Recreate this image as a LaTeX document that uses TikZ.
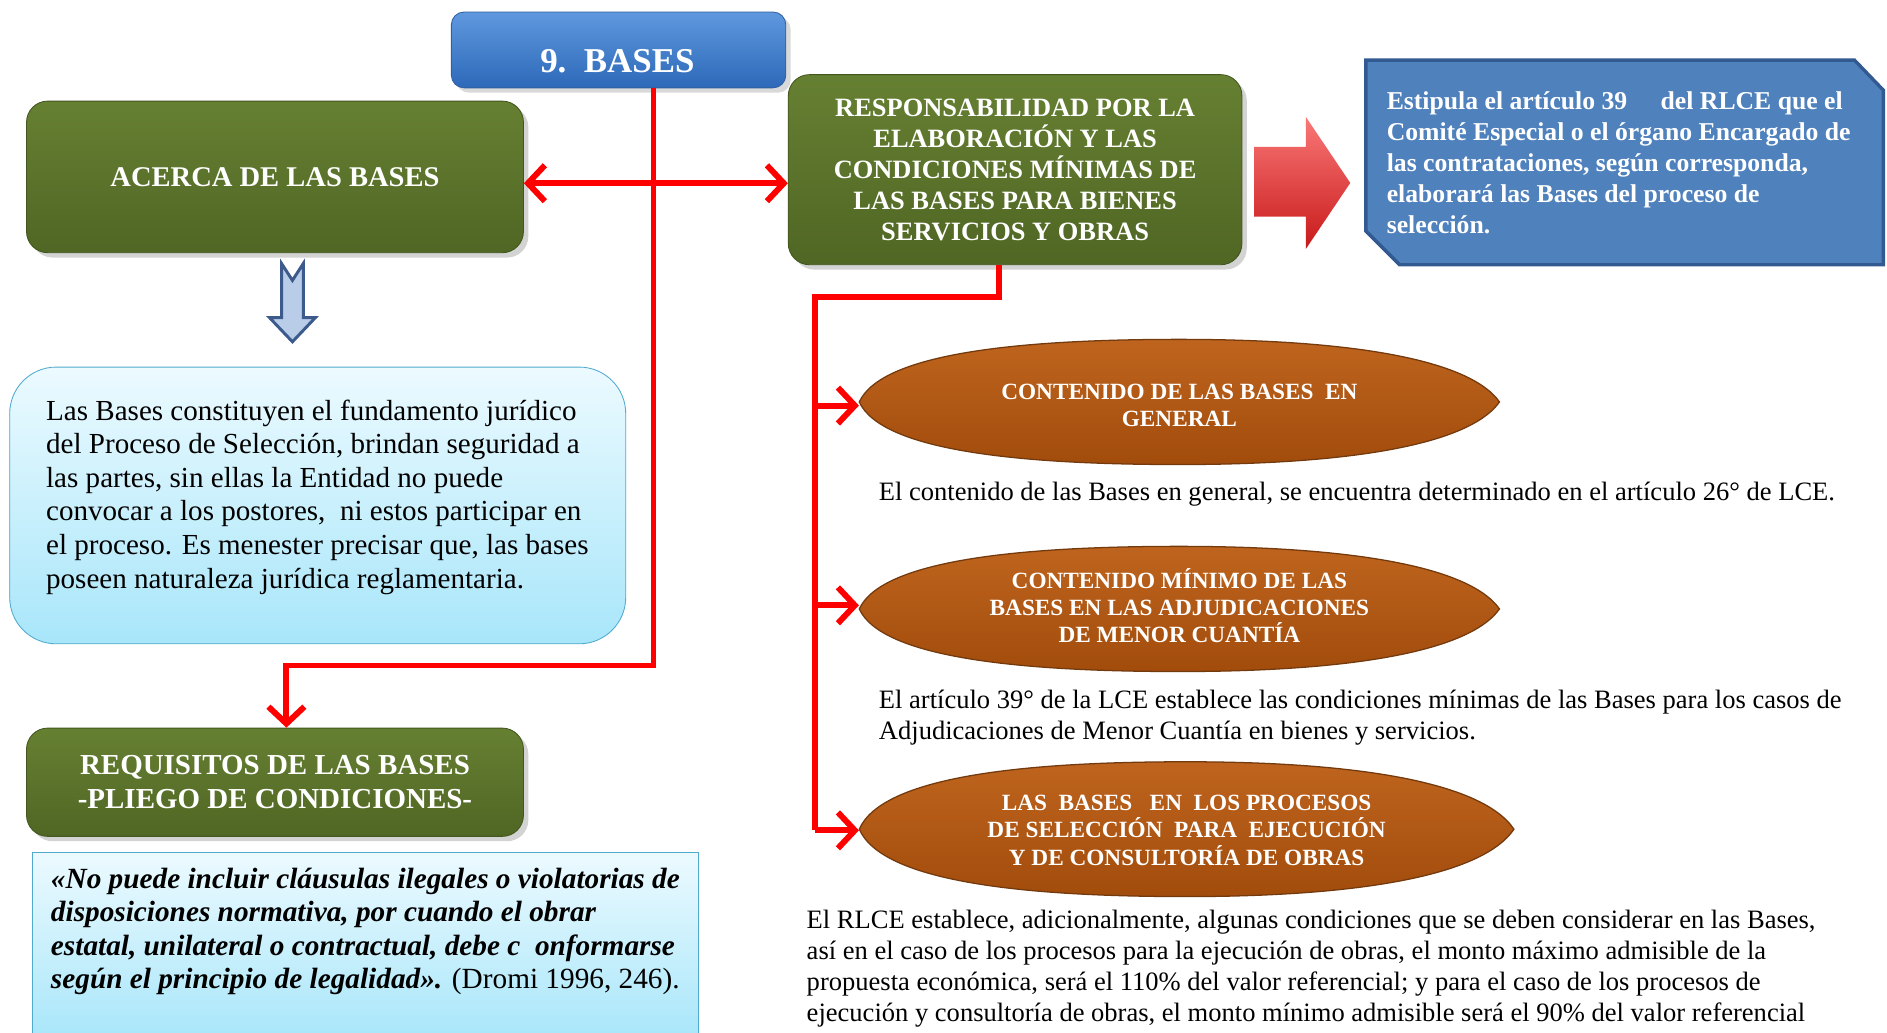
\documentclass[tikz,border=0pt]{standalone}
\usepackage{fontspec}
\setmainfont{Liberation Serif}
\usetikzlibrary{arrows.meta,shapes.geometric,shadows,calc,positioning}

\definecolor{greentop}{RGB}{102,128,50}
\definecolor{greenbot}{RGB}{80,102,36}
\definecolor{greenedge}{RGB}{66,86,30}
\definecolor{basetop}{RGB}{95,152,222}
\definecolor{basebot}{RGB}{45,105,185}
\definecolor{baseedge}{RGB}{50,95,160}
\definecolor{notefill}{RGB}{79,129,189}
\definecolor{noteedge}{RGB}{50,90,145}
\definecolor{paletop}{RGB}{236,250,255}
\definecolor{palebot}{RGB}{168,230,250}
\definecolor{paleedge}{RGB}{80,170,205}
\definecolor{lenstop}{RGB}{190,100,30}
\definecolor{lensbot}{RGB}{162,76,12}
\definecolor{lensedge}{RGB}{115,58,14}
\definecolor{linkred}{RGB}{255,0,0}
\definecolor{blocktop}{RGB}{250,120,120}
\definecolor{blockbot}{RGB}{200,25,25}
\definecolor{downfill}{RGB}{185,205,232}
\definecolor{downedge}{RGB}{60,90,140}

\tikzset{
  basebox/.style={draw=baseedge, rounded corners=6pt, top color=basetop, bottom color=basebot,
    minimum width=5.56cm, minimum height=1.26cm, drop shadow={opacity=0.3}},
  greenbox/.style={draw=greenedge, rounded corners=10pt, top color=greentop, bottom color=greenbot,
    text=white, align=center, drop shadow={opacity=0.35}},
  palebox/.style={draw=paleedge, top color=paletop, bottom color=palebot},
  lens/.style={draw=lensedge, line width=0.6pt, top color=lenstop, bottom color=lensbot},
  lenstext/.style={ellipse, inner sep=0pt, text=white, align=center,
    font=\bfseries\fontsize{11}{12.8}\selectfont},
  plain/.style={anchor=west, inner sep=0pt, align=left, font=\fontsize{12.55}{14.7}\selectfont},
  link/.style={draw=linkred, line width=2.8pt},
  >={Straight Barb[length=8pt,width=17pt]}
}

% lente: x, y, semiancho, semialto
\newcommand\lensat[4]{%
  \path[lens] ({#1-#3},#2)
    .. controls ({#1-0.93*#3},{#2-0.78*#4}) and ({#1-0.5*#3},{#2-#4}) .. ({#1},{#2-#4})
    .. controls ({#1+0.5*#3},{#2-#4}) and ({#1+0.9*#3},{#2-0.72*#4}) .. ({#1+#3},#2)
    .. controls ({#1+0.9*#3},{#2+0.72*#4}) and ({#1+0.5*#3},{#2+#4}) .. ({#1},{#2+#4})
    .. controls ({#1-0.5*#3},{#2+#4}) and ({#1-0.93*#3},{#2+0.78*#4}) .. cycle;}

\begin{document}
\begin{tikzpicture}[x=0.02cm,y=-0.02cm]
\useasboundingbox (0,0) rectangle (1568,858);

% columna izquierda
\node[basebox] (base) at (514,41.5) {};
\node[text=white, font=\bfseries\fontsize{16.5}{19}\selectfont] (basetext) at (513,51) {9.\ \ BASES};
\node[greenbox, minimum width=8.26cm, minimum height=2.52cm, font=\bfseries\fontsize{13.5}{16}\selectfont]
  (acerca) at (228.5,147) {ACERCA DE LAS BASES};
\node[palebox, rounded corners=22pt, minimum width=10.24cm, minimum height=4.6cm] (idea) at (264,420) {};
\node[anchor=west, inner sep=0pt, align=left, font=\fontsize{13.75}{15.9}\selectfont] (ideatext) at (38,413)
  {Las Bases constituyen el fundamento jurídico\\
   del Proceso de Selección, brindan seguridad a\\
   las partes, sin ellas la Entidad no puede\\
   convocar a los postores,\ \ ni estos participar en\\
   el proceso. Es menester precisar que, las bases\\
   poseen naturaleza jurídica reglamentaria.};
\node[greenbox, minimum width=8.26cm, minimum height=1.8cm, font=\bfseries\fontsize{13.7}{15.9}\selectfont]
  (req) at (228.5,650) {REQUISITOS DE LAS BASES\\-PLIEGO DE CONDICIONES-};
\node[palebox, minimum width=11.06cm, minimum height=3.1cm] (cita) at (303.5,786) {};
\node[anchor=west, inner sep=0pt, align=left, font=\fontsize{13.85}{15.9}\selectfont] (citatext) at (42,774)
  {\textbf{\textit{«No puede incluir cláusulas ilegales o violatorias de}}\\
   \textbf{\textit{disposiciones normativa, por cuando el obrar}}\\
   \textbf{\textit{estatal, unilateral o contractual, debe c\ \ onformarse}}\\
   \textbf{\textit{según el principio de legalidad».}} (Dromi 1996, 246).};

% flecha azul
\filldraw[fill=downfill, draw=downedge, line width=1.4pt, line join=miter]
  (234,219) -- (243,233) -- (252,219) -- (252,264) -- (262,264) -- (243,284)
  -- (224,264) -- (234,264) -- cycle;

% columna derecha
\node[greenbox, minimum width=7.54cm, minimum height=3.16cm, font=\bfseries\fontsize{12.5}{14.7}\selectfont]
  (resp) at (843.5,141)
  {RESPONSABILIDAD POR LA\\ELABORACIÓN Y LAS\\CONDICIONES MÍNIMAS DE\\LAS BASES PARA BIENES\\SERVICIOS Y OBRAS};
\shade[top color=blocktop, bottom color=blockbot]
  (1042,122) -- (1085,122) -- (1085,97) -- (1122,152) -- (1085,207) -- (1085,180) -- (1042,180) -- cycle;
\filldraw[fill=notefill, draw=noteedge, line width=1.6pt]
  (1135,50) -- (1541,50) -- (1565,75) -- (1565,220) -- (1163,220) -- (1135,192) -- cycle;
\node[anchor=west, inner sep=0pt, text=white, align=left, font=\bfseries\fontsize{12.15}{14.7}\selectfont]
  (nota) at (1152,135)
  {Estipula el artículo 39\hspace{1.3em}del RLCE que el\\
   Comité Especial o el órgano Encargado de\\
   las contrataciones, según corresponda,\\
   elaborará las Bases del proceso de\\
   selección.};

\lensat{980}{334}{266}{52}
\lensat{980}{506}{266}{52}
\lensat{986}{689}{272}{56}
\node[lenstext, minimum width=10.64cm, minimum height=2.08cm] (e1) at (980,337)
  {CONTENIDO DE LAS BASES\ \ EN\\GENERAL};
\node[lenstext, minimum width=10.64cm, minimum height=2.08cm] (e2) at (980,503)
  {CONTENIDO MÍNIMO DE LAS\\BASES EN LAS ADJUDICACIONES\\DE MENOR CUANTÍA};
\node[lenstext, minimum width=10.88cm, minimum height=2.24cm] (e3) at (986,690)
  {LAS\ \ BASES\ \ \ EN\ \ LOS PROCESOS\\DE SELECCIÓN\ \ PARA\ \ EJECUCIÓN\\Y DE CONSULTORÍA DE OBRAS};

\node[plain] (t1) at (730,411)
  {El contenido de las Bases en general, se encuentra determinado en el artículo 26° de LCE.};
\node[plain] (t2) at (730,596)
  {El artículo 39° de la LCE establece las condiciones mínimas de las Bases para los casos de\\
   Adjudicaciones de Menor Cuantía en bienes y servicios.};
\node[plain] (t3) at (670,805)
  {El RLCE establece, adicionalmente, algunas condiciones que se deben considerar en las Bases,\\
   así en el caso de los procesos para la ejecución de obras, el monto máximo admisible de la\\
   propuesta económica, será el 110\% del valor referencial; y para el caso de los procesos de\\
   ejecución y consultoría de obras, el monto mínimo admisible será el 90\% del valor referencial};

% conectores
\coordinate (trunk) at (543,553);
\coordinate (drop) at (830,247);
\coordinate (rail) at (677,247);
\draw[link, <->] ([yshift=-3pt]acerca.east) -- ([yshift=-3pt]acerca.east -| resp.west);
\draw[link, ->] (base.south -| trunk) -- (trunk) -| ([xshift=5.4pt]req.north);
\draw[link] (resp.south -| drop) -- (drop) -- (rail) -- (rail |- e3.west);
\foreach \e in {e1,e2,e3}
  \draw[link, ->] (rail |- \e.west) -- (\e.west);
\end{tikzpicture}
\end{document}
